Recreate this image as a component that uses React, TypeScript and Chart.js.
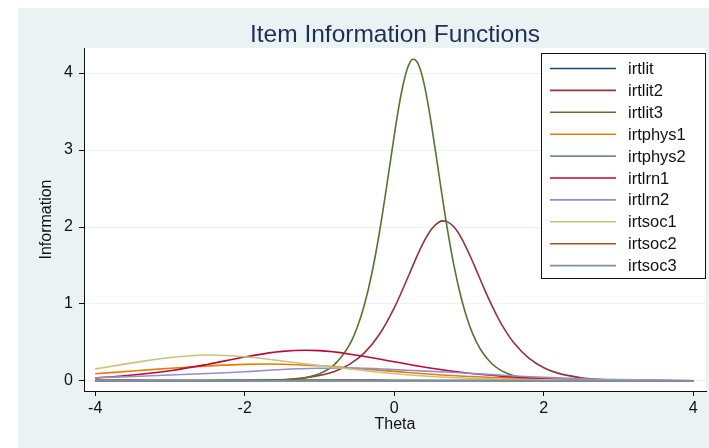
import React, { useEffect, useRef } from "react";
import { Chart, registerables } from "chart.js";

Chart.register(...registerables);

// Theta grids (ability scale) for the broad and the sharply peaked items
const THETA_BROAD = [-4, -3.5, -3, -2.5, -2, -1.5, -1, -0.5, 0, 0.5, 1, 1.5, 2, 2.5, 3, 3.5, 4];
const THETA_LIT2 = [-4, -3, -2, -1.5, -1.2, -1, -0.8, -0.6, -0.4, -0.2, 0, 0.1, 0.2, 0.3, 0.4, 0.5, 0.6, 0.65, 0.7, 0.8, 0.9, 1.0, 1.1, 1.2, 1.3, 1.4, 1.5, 1.6, 1.8, 2.0, 2.2, 2.5, 3, 3.5, 4];
const THETA_LIT3 = [-4, -3, -2.5, -2, -1.5, -1.2, -1, -0.8, -0.6, -0.5, -0.4, -0.3, -0.2, -0.1, 0, 0.05, 0.1, 0.15, 0.2, 0.25, 0.3, 0.35, 0.4, 0.45, 0.5, 0.6, 0.7, 0.8, 0.9, 1.0, 1.1, 1.2, 1.3, 1.4, 1.5, 1.6, 1.8, 2.0, 2.5, 3, 3.5, 4];

// Item information values
const irtlit = [0.004, 0.005, 0.006, 0.007, 0.008, 0.008, 0.008, 0.008, 0.007, 0.007, 0.006, 0.005, 0.005, 0.004, 0.004, 0.003, 0.003];
const irtlit2 = [0, 0.0002, 0.004, 0.017, 0.040, 0.071, 0.124, 0.215, 0.365, 0.603, 0.95, 1.161, 1.387, 1.613, 1.817, 1.975, 2.065, 2.08, 2.073, 1.999, 1.853, 1.656, 1.434, 1.206, 0.991, 0.798, 0.634, 0.496, 0.296, 0.173, 0.099, 0.043, 0.010, 0.0025, 0.0006];
const irtlit3 = [0, 0.0003, 0.0005, 0.0016, 0.0125, 0.042, 0.095, 0.213, 0.468, 0.685, 0.987, 1.396, 1.919, 2.538, 3.19, 3.496, 3.763, 3.975, 4.118, 4.178, 4.152, 4.042, 3.856, 3.606, 3.315, 2.669, 2.035, 1.491, 1.061, 0.738, 0.505, 0.343, 0.231, 0.155, 0.104, 0.069, 0.031, 0.014, 0.002, 0.0003, 0.0001, 0];
const irtphys1 = [0.095, 0.13, 0.165, 0.195, 0.216, 0.218, 0.197, 0.163, 0.125, 0.087, 0.058, 0.04, 0.027, 0.017, 0.011, 0.007, 0.004];
const irtphys2 = [0.003, 0.003, 0.004, 0.004, 0.005, 0.005, 0.005, 0.005, 0.005, 0.004, 0.004, 0.004, 0.003, 0.003, 0.003, 0.002, 0.002];
const irtlrn1 = [0.037, 0.078, 0.134, 0.215, 0.311, 0.385, 0.394, 0.335, 0.25, 0.165, 0.1, 0.058, 0.03, 0.016, 0.009, 0.005, 0.003];
const irtlrn2 = [0.043, 0.058, 0.077, 0.097, 0.12, 0.15, 0.165, 0.168, 0.148, 0.125, 0.1, 0.072, 0.047, 0.029, 0.018, 0.011, 0.006];
const irtsoc1 = [0.157, 0.235, 0.305, 0.338, 0.315, 0.26, 0.2, 0.145, 0.095, 0.058, 0.036, 0.022, 0.014, 0.009, 0.006, 0.004, 0.002];
const irtsoc2 = [0.011, 0.011, 0.01, 0.01, 0.009, 0.009, 0.008, 0.008, 0.007, 0.006, 0.006, 0.005, 0.004, 0.004, 0.003, 0.003, 0.002];
const irtsoc3 = [0.001, 0.001, 0.001, 0.001, 0.001, 0.001, 0.001, 0.001, 0.001, 0.001, 0.001, 0.001, 0.001, 0.001, 0.001, 0.001, 0.001];

const X_TICKS = [-4, -2, 0, 2, 4];
const Y_TICKS = [0, 1, 2, 3, 4];

const TITLE = "Item Information Functions";
const X_TITLE = "Theta";
const Y_TITLE = "Information";

const SERIES = [
  { label: "irtlit", color: "#1A476F", theta: THETA_BROAD, values: irtlit },
  { label: "irtlit2", color: "#90353B", theta: THETA_LIT2, values: irtlit2 },
  { label: "irtlit3", color: "#55752F", theta: THETA_LIT3, values: irtlit3 },
  { label: "irtphys1", color: "#E37E00", theta: THETA_BROAD, values: irtphys1 },
  { label: "irtphys2", color: "#6E8E84", theta: THETA_BROAD, values: irtphys2 },
  { label: "irtlrn1", color: "#C10534", theta: THETA_BROAD, values: irtlrn1 },
  { label: "irtlrn2", color: "#938DD2", theta: THETA_BROAD, values: irtlrn2 },
  { label: "irtsoc1", color: "#CAC27E", theta: THETA_BROAD, values: irtsoc1 },
  { label: "irtsoc2", color: "#A0522D", theta: THETA_BROAD, values: irtsoc2 },
  { label: "irtsoc3", color: "#7B92A8", theta: THETA_BROAD, values: irtsoc3 },
];

const FONT = "'Liberation Sans', Arial, Helvetica, sans-serif";
const GRAPH_BG = "#EAF2F3";
const INK = "#111111";

const framePlugin = {
  id: "stataFrame",
  beforeDraw(chart: any) {
    const { ctx, chartArea: a, width, height } = chart;
    ctx.save();
    ctx.fillStyle = "#ffffff";
    ctx.fillRect(0, 0, width, height);
    ctx.fillStyle = GRAPH_BG;
    ctx.fillRect(18, 8, width - 18, height - 8);
    ctx.fillStyle = "#ffffff";
    ctx.fillRect(a.left, a.top, a.right - a.left, a.bottom - a.top);
    ctx.restore();
  },
  afterDraw(chart: any) {
    const { ctx, chartArea: a } = chart;
    ctx.save();
    // title
    ctx.fillStyle = "#1E2F52";
    ctx.font = `24.5px ${FONT}`;
    ctx.textAlign = "center";
    ctx.textBaseline = "alphabetic";
    ctx.fillText(TITLE, (a.left + a.right) / 2, 42);

    // legend box
    const bx = 541.5, by = 53.5, bw = 164, bh = 225;
    ctx.fillStyle = "#ffffff";
    ctx.fillRect(bx, by, bw, bh);
    ctx.strokeStyle = INK;
    ctx.lineWidth = 1;
    ctx.strokeRect(bx, by, bw, bh);
    ctx.font = `16.5px ${FONT}`;
    ctx.textAlign = "left";
    ctx.textBaseline = "middle";
    chart.data.datasets.forEach((ds: any, i: number) => {
      const y = 68.5 + i * 21.9;
      ctx.strokeStyle = ds.borderColor;
      ctx.lineWidth = 1.6;
      ctx.beginPath();
      ctx.moveTo(550, y);
      ctx.lineTo(616, y);
      ctx.stroke();
      ctx.fillStyle = INK;
      ctx.fillText(ds.label, 628, y + 1);
    });
    ctx.restore();
  },
};

export default function App() {
  const canvasRef = useRef<HTMLCanvasElement | null>(null);

  useEffect(() => {
    const canvas = canvasRef.current;
    if (!canvas) return;
    const datasets = SERIES.map((s, i) => {
      const sharp = s.theta !== THETA_BROAD;
      return {
        label: s.label,
        data: s.theta.map((t, k) => ({ x: t, y: s.values[k] })),
        borderColor: s.color,
        backgroundColor: s.color,
        borderWidth: 1.6,
        pointRadius: 0,
        // dense grids keep monotone splines; coarse grids use a smooth bezier
        cubicInterpolationMode: sharp ? ("monotone" as const) : ("default" as const),
        tension: sharp ? 0 : 0.4,
        fill: false,
        order: SERIES.length - i,
      };
    });

    const chart = new Chart(canvas, {
      type: "line",
      data: { datasets },
      plugins: [framePlugin],
      options: {
        animation: false,
        responsive: false,
        devicePixelRatio: 1,
        layout: { padding: { top: 48, right: 3, left: 0, bottom: 0 } },
        plugins: {
          legend: { display: false },
          title: { display: false },
          tooltip: { enabled: false },
        },
        scales: {
          x: {
            type: "linear",
            min: -4.15,
            max: 4.17,
            afterFit: (scale: any) => {
              scale.height = 57;
            },
            afterBuildTicks: (scale: any) => {
              scale.ticks = X_TICKS.map((v) => ({ value: v }));
            },
            grid: {
              drawOnChartArea: false,
              drawTicks: true,
              tickLength: 5,
              tickColor: INK,
            },
            border: { display: true, color: INK, width: 1 },
            ticks: {
              color: INK,
              font: { family: FONT, size: 16 },
              padding: 3,
              maxRotation: 0,
              autoSkip: false,
            },
            title: {
              display: true,
              text: X_TITLE,
              color: INK,
              font: { family: FONT, size: 16 },
              padding: { top: 0, bottom: 14 },
            },
          },
          y: {
            type: "linear",
            min: -0.13,
            max: 4.325,
            afterFit: (scale: any) => {
              scale.width = 84;
            },
            afterBuildTicks: (scale: any) => {
              scale.ticks = Y_TICKS.map((v) => ({ value: v }));
            },
            grid: {
              color: GRAPH_BG,
              lineWidth: 1,
              drawTicks: true,
              tickLength: 5,
              tickColor: INK,
            },
            border: { display: true, color: INK, width: 1 },
            ticks: {
              color: INK,
              font: { family: FONT, size: 16 },
              padding: 6,
              autoSkip: false,
            },
            title: {
              display: true,
              text: Y_TITLE,
              color: INK,
              font: { family: FONT, size: 16 },
              padding: { top: 37, bottom: 0 },
            },
          },
        },
      },
    });
    return () => chart.destroy();
  }, []);

  return (
    <div style={{ position: "fixed", left: 0, top: 0, width: 709, height: 448 }}>
      <canvas ref={canvasRef} width={709} height={448} style={{ display: "block" }} />
    </div>
  );
}
